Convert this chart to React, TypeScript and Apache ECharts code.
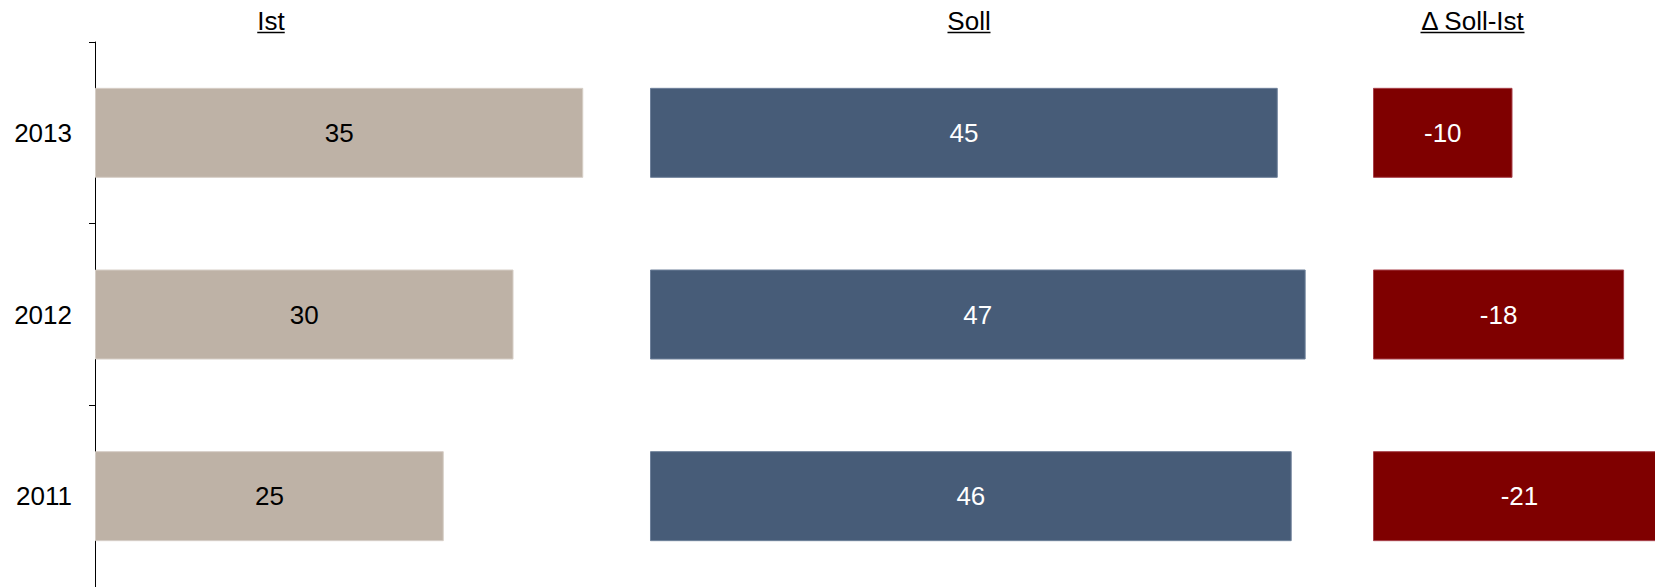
import React, { useEffect, useRef } from "react";
import * as echarts from "echarts";

const categories = ["2011", "2012", "2013"];
const istValues = [25, 30, 35];
const sollValues = [46, 47, 45];
const deltaValues = [-21, -18, -10];
const headers = ["Ist", "Soll", "Δ Soll-Ist"];

const FONT = "Arial, 'Liberation Sans', sans-serif";
const PX = 13.95; // pixels per unit, shared by all three panels
const TOP = 42;
const H = 546;
const DELTA_RANGE = 282 / PX;

export default function App() {
  const ref = useRef<HTMLDivElement>(null);
  useEffect(() => {
    if (!ref.current) return;
    const chart = echarts.init(ref.current, undefined, { renderer: "svg" });
    const fs = 26;
    const headerPos = [271, 969, 1472.5];
    const headerW = [27.5, 43, 104];
    const graphic: any[] = [];
    headers.forEach((h, i) => {
      graphic.push({
        type: "text",
        x: headerPos[i],
        y: 20.5,
        style: {
          text: h,
          font: `${fs}px ${FONT}`,
          fill: "#000",
          align: "center",
          verticalAlign: "middle",
          textAlign: "center",
          textVerticalAlign: "middle",
        },
      });
      graphic.push({
        type: "line",
        shape: {
          x1: headerPos[i] - headerW[i] / 2,
          y1: 32.5,
          x2: headerPos[i] + headerW[i] / 2,
          y2: 32.5,
        },
        style: { stroke: "#000", lineWidth: 1.5 },
      });
    });

    const hiddenY = (gi: number) => ({
      type: "category",
      gridIndex: gi,
      data: categories,
      show: false,
    });

    chart.setOption({
      animation: false,
      graphic,
      grid: [
        { left: 95, top: TOP, width: 38 * PX, height: H },
        { left: 650, top: TOP, width: 50 * PX, height: H },
        { left: 1373, top: TOP, width: 282, height: H },
      ],
      xAxis: [
        { type: "value", gridIndex: 0, min: 0, max: 38, show: false },
        { type: "value", gridIndex: 1, min: 0, max: 50, show: false },
        { type: "value", gridIndex: 2, min: -DELTA_RANGE, max: 0, inverse: true, show: false },
      ],
      yAxis: [
        {
          type: "category",
          gridIndex: 0,
          data: categories,
          axisLine: { show: true, lineStyle: { color: "#000", width: 1 } },
          axisTick: { show: true, length: 6, lineStyle: { color: "#000" } },
          axisLabel: {
            color: "#000",
            fontSize: fs,
            fontFamily: FONT,
            margin: 23,
          },
          splitLine: { show: false },
        },
        hiddenY(1),
        hiddenY(2),
      ],
      series: [
        {
          type: "bar",
          xAxisIndex: 0,
          yAxisIndex: 0,
          data: istValues,
          barWidth: 90,
          itemStyle: { color: "#BEB2A6", borderColor: "#D6CEC6", borderWidth: 1 },
          label: {
            show: true,
            position: "inside",
            color: "#000",
            fontSize: fs,
            fontFamily: FONT,
          },
        },
        {
          type: "bar",
          xAxisIndex: 1,
          yAxisIndex: 1,
          data: sollValues,
          barWidth: 90,
          itemStyle: { color: "#475C78", borderColor: "#6E809A", borderWidth: 1 },
          label: {
            show: true,
            position: "inside",
            color: "#fff",
            fontSize: fs,
            fontFamily: FONT,
          },
        },
        {
          type: "bar",
          xAxisIndex: 2,
          yAxisIndex: 2,
          data: deltaValues,
          barWidth: 90,
          clip: false,
          itemStyle: { color: "#7F0000", borderColor: "#A8404A", borderWidth: 1 },
          label: {
            show: true,
            position: "inside",
            color: "#fff",
            fontSize: fs,
            fontFamily: FONT,
          },
        },
      ],
    });
    return () => chart.dispose();
  }, []);
  return (
    <div
      ref={ref}
      style={{ position: "absolute", left: 0, top: 0, width: 1655, height: 587 }}
    />
  );
}
